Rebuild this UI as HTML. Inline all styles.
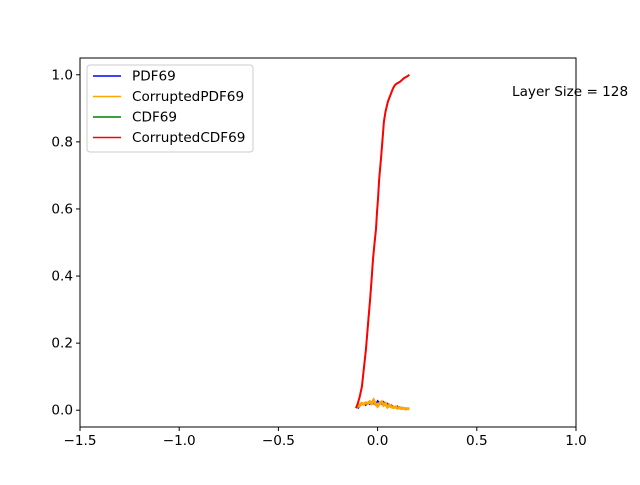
<!DOCTYPE html>
<html><head><meta charset="utf-8"><style>
body{margin:0;background:#fff;font-family:"Liberation Sans","DejaVu Sans",sans-serif;}
svg text{font-family:"DejaVu Sans","Liberation Sans",sans-serif;font-size:13.6px;fill:#000;}
</style></head><body>
<svg width="640" height="480" id="c">
<rect width="640" height="480" fill="#fff"/>
</svg>
<script>
const cdfX=[-0.109,-0.1,-0.09,-0.079,-0.07,-0.059,-0.048,-0.038,-0.03,-0.023,-0.015,-0.008,-0.003,0.002,0.008,0.017,0.025,0.032,0.04,0.052,0.065,0.078,0.088,0.1,0.115,0.133,0.148,0.16];
const cdfY=[0.006,0.02,0.04,0.07,0.12,0.18,0.26,0.33,0.39,0.45,0.5,0.54,0.59,0.63,0.69,0.75,0.81,0.86,0.89,0.92,0.94,0.96,0.97,0.975,0.98,0.99,0.995,1.0];
const pdfX=[-0.1,-0.09,-0.08,-0.07,-0.06,-0.05,-0.04,-0.03,-0.02,-0.01,0,0.01,0.02,0.03,0.04,0.05,0.06,0.07,0.08,0.09,0.1,0.11,0.12,0.13,0.14,0.15,0.16];
const pdfY=[0.005,0.012,0.018,0.02,0.015,0.022,0.018,0.025,0.02,0.015,0.028,0.022,0.018,0.025,0.015,0.02,0.012,0.015,0.01,0.008,0.012,0.006,0.008,0.005,0.006,0.004,0.005];
const pdfY2=[0.01,0.015,0.02,0.018,0.022,0.02,0.025,0.02,0.03,0.018,0.012,0.02,0.025,0.015,0.02,0.01,0.015,0.01,0.008,0.01,0.006,0.008,0.005,0.006,0.004,0.005,0.004];
const xTicks=[-1.5,-1.0,-0.5,0.0,0.5,1.0];
const yTicks=[0.0,0.2,0.4,0.6,0.8,1.0];
const L=80,R=576,T=58,B=427;
const sx=v=>L+(v+1.5)/2.5*(R-L);
const sy=v=>B-(v+0.05)/1.1*(B-T);
const svg=document.getElementById('c');const NS='http://www.w3.org/2000/svg';
function mk(t,a,p){const e=document.createElementNS(NS,t);for(const k in a)e.setAttribute(k,a[k]);(p||svg).appendChild(e);return e;}
function step(xs,ys){let d='';for(let i=0;i<xs.length;i++){d+=(i?'L':'M')+sx(xs[i]).toFixed(1)+','+sy(ys[i]).toFixed(1);}return d;}
let p;
p=mk('path',{d:step(pdfX,pdfY),fill:'none',stroke:'#0000ff','stroke-width':1.5});

p=mk('path',{d:step(pdfX,pdfY2),fill:'none',stroke:'#ffa500','stroke-width':3});

p=mk('path',{d:step(cdfX,cdfY),fill:'none',stroke:'#008000','stroke-width':1.5});

p=mk('path',{d:step(cdfX,cdfY),fill:'none',stroke:'#ff0000','stroke-width':2});

p=mk('rect',{x:L,y:T,width:R-L,height:B-T,fill:'none',stroke:'#000','stroke-width':1});

xTicks.forEach(v=>{const x=sx(v);mk('line',{x1:x,x2:x,y1:B,y2:B+4,stroke:'#000'});
const t=mk('text',{x:x,y:B+18,'text-anchor':'middle'});t.textContent=v.toFixed(1).replace('-','\u2212');
});
yTicks.forEach(v=>{const y=sy(v);mk('line',{x1:L-4,x2:L,y1:y,y2:y,stroke:'#000'});
const t=mk('text',{x:L-7,y:y+4.5,'text-anchor':'end'});t.textContent=v.toFixed(1);
});
const ann=mk('text',{x:512,y:96});ann.textContent='Layer Size = 128';

const lg=mk('g',{});
mk('rect',{x:87,y:65,width:166,height:87,rx:3,fill:'#fff','fill-opacity':0.8,stroke:'#ccc'},lg);
const names=['PDF69','CorruptedPDF69','CDF69','CorruptedCDF69'];const cols=['#0000ff','#ffa500','#008000','#ff0000'];
names.forEach((n,i)=>{const y=76+i*20.5;mk('line',{x1:93,x2:121,y1:y,y2:y,stroke:cols[i],'stroke-width':1.5},lg);
const t=mk('text',{x:132,y:y+4.5},lg);t.textContent=n;
});
</script>
</body></html>
